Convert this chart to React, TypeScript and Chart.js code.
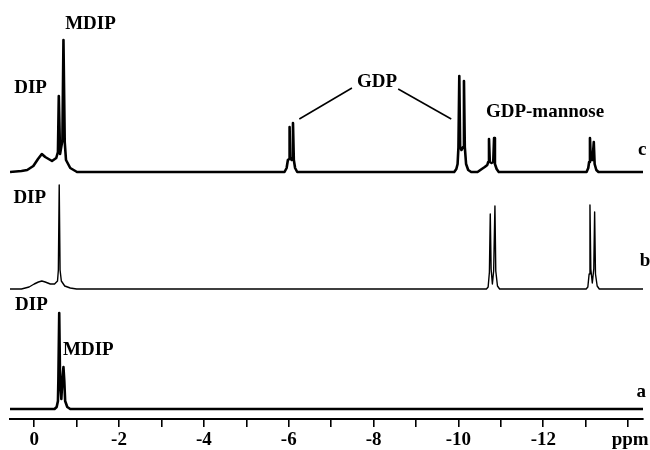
import React, { useEffect, useRef } from "react";
import { Chart, registerables } from "chart.js";

Chart.register(...registerables);

// Spectrum c: chemical shift (ppm) and intensity
const cPpm = [0.57, 0.3, 0.165, 0.02, -0.09, -0.18, -0.26, -0.42, -0.52, -0.56, -0.58, -0.61, -0.65, -0.665, -0.69, -0.72, -0.75, -0.85, -1.01,
  -2.5, -4.0, -5.2, -5.9, -5.95, -5.98, -6.01, -6.02, -6.035, -6.07, -6.085, -6.1, -6.12, -6.15, -6.2,
  -8.0, -9.9, -9.95, -9.98, -10.0, -10.02, -10.04, -10.07, -10.11, -10.13, -10.15, -10.18, -10.23, -10.3,
  -10.45, -10.55, -10.62, -10.68, -10.7, -10.72, -10.74, -10.78, -10.82, -10.84, -10.86, -10.9, -10.95,
  -12.0, -13.02, -13.06, -13.08, -13.1, -13.12, -13.16, -13.19, -13.21, -13.25, -13.3, -14.35];
const cInt = [0, 1, 2, 6, 13, 18, 15, 11, 14, 20, 76, 18, 28, 32, 132, 30, 12, 4, 0,
  0, 0, 0, 0, 4, 12, 13, 45, 14, 12, 14, 49, 12, 4, 0,
  0, 0, 3, 8, 25, 96, 25, 22, 25, 91, 25, 8, 2, 0,
  0, 3, 5, 7, 10, 33, 10, 9, 10, 34, 8, 3, 0,
  0, 0, 4, 10, 34, 12, 12, 30, 8, 2, 0, 0];

// Spectrum b
const bPpm = [0.57, 0.3, 0.12, 0.0, -0.1, -0.18, -0.26, -0.38, -0.48, -0.55, -0.57, -0.59, -0.61, -0.64, -0.72, -0.85, -1.0,
  -5.0, -10.0, -10.66, -10.7, -10.73, -10.75, -10.77, -10.8, -10.83, -10.86, -10.88, -10.92, -10.97,
  -12.0, -13.01, -13.05, -13.08, -13.1, -13.12, -13.155, -13.19, -13.21, -13.23, -13.27, -13.32, -14.35];
const bInt = [0, 0, 2, 5, 7, 8, 7, 5, 5, 8, 19, 104, 19, 8, 3, 1, 0,
  0, 0, 0, 2, 17, 75, 20, 5, 18, 83, 18, 3, 0,
  0, 0, 2, 15, 84, 20, 6, 20, 77, 15, 3, 0, 0];

// Spectrum a
const aPpm = [0.57, -0.48, -0.53, -0.56, -0.57, -0.59, -0.61, -0.64, -0.665, -0.69, -0.71, -0.73, -0.78, -0.85, -14.35];
const aInt = [0, 0, 2, 8, 29, 96, 29, 10, 30, 42, 28, 8, 2, 0, 0];

// Vertical stacking offsets of the three spectra
const offsets = { c: 247, b: 130, a: 10 };

// Axis ticks
const tickValues = [0, -1, -2, -3, -4, -5, -6, -7, -8, -9, -10, -11, -12, -13, -14];
const labeledTicks = [0, -2, -4, -6, -8, -10, -12];
const axisUnit = "ppm";

// Annotations: [text, ppm, height, align]
const labels: [string, number, number, CanvasTextAlign][] = [
  ["MDIP", -0.73, 395, "left"],
  ["DIP", 0.47, 331, "left"],
  ["GDP", -8.08, 337, "center"],
  ["GDP-mannose", -12.04, 307, "center"],
  ["c", -14.33, 269, "center"],
  ["DIP", 0.49, 221, "left"],
  ["b", -14.4, 158, "center"],
  ["DIP", 0.45, 114, "left"],
  ["MDIP", -0.68, 69, "left"],
  ["a", -14.31, 27, "center"],
];
// Leader lines for GDP: [ppm1, h1, ppm2, h2]
const leaders = [
  [-7.49, 331, -6.25, 300],
  [-8.58, 330, -9.83, 300],
];

const FONT = 'bold 19px "Liberation Serif", "Times New Roman", serif';

const toPoints = (ppm: number[], inten: number[], off: number) =>
  ppm.map((p, i) => ({ x: p, y: inten[i] + off }));

export default function App() {
  const ref = useRef<HTMLCanvasElement>(null);
  useEffect(() => {
    if (!ref.current) return;
    const annot = {
      id: "annot",
      afterDraw(chart: any) {
        const ctx = chart.ctx;
        const xs = chart.scales.x;
        const ys = chart.scales.y;
        ctx.save();
        ctx.fillStyle = "#000";
        ctx.strokeStyle = "#000";
        ctx.font = FONT;
        ctx.textBaseline = "middle";
        for (const [t, p, h, al] of labels) {
          ctx.textAlign = al;
          ctx.fillText(t, xs.getPixelForValue(p), ys.getPixelForValue(h));
        }
        ctx.lineWidth = 1.5;
        for (const [p1, h1, p2, h2] of leaders) {
          ctx.beginPath();
          ctx.moveTo(xs.getPixelForValue(p1), ys.getPixelForValue(h1));
          ctx.lineTo(xs.getPixelForValue(p2), ys.getPixelForValue(h2));
          ctx.stroke();
        }
        ctx.textAlign = "center";
        ctx.fillText(axisUnit, xs.getPixelForValue(-14) + 2, 440);
        ctx.restore();
      },
    };
    const chart = new Chart(ref.current, {
      type: "line",
      data: {
        datasets: [
          { data: toPoints(cPpm, cInt, offsets.c), borderColor: "#000", borderWidth: 2.6 },
          { data: toPoints(bPpm, bInt, offsets.b), borderColor: "#000", borderWidth: 1.4 },
          { data: toPoints(aPpm, aInt, offsets.a), borderColor: "#000", borderWidth: 2.6 },
        ] as any,
      },
      options: {
        animation: false,
        responsive: false,
        parsing: false as any,
        layout: { padding: { left: 10, right: 7, top: 5, bottom: 0 } },
        elements: { point: { radius: 0 }, line: { tension: 0, borderJoinStyle: "round" } },
        plugins: { legend: { display: false }, tooltip: { enabled: false } },
        scales: {
          x: {
            type: "linear",
            min: -14.35,
            max: 0.57,
            reverse: true,
            afterBuildTicks: (axis: any) => {
              axis.ticks = tickValues.map((v) => ({ value: v }));
            },
            afterFit: (axis: any) => {
              axis.height = 31;
            },
            grid: { drawOnChartArea: false, drawTicks: true, tickLength: 8, color: "#000", lineWidth: 1.6 },
            border: { display: true, color: "#000", width: 2 },
            ticks: {
              autoSkip: false,
              maxRotation: 0,
              padding: 2,
              color: "#000",
              font: { family: '"Liberation Serif", "Times New Roman", serif', size: 19, weight: "bold" },
              callback: (v: any) => (labeledTicks.includes(Number(v)) ? String(v) : ""),
            },
          },
          y: { type: "linear", min: 0, max: 414, display: false },
        },
      },
      plugins: [annot],
    });
    return () => chart.destroy();
  }, []);
  return (
    <canvas
      ref={ref}
      width={650}
      height={450}
      style={{ position: "absolute", left: 0, top: 0, display: "block", background: "#fff" }}
    />
  );
}
